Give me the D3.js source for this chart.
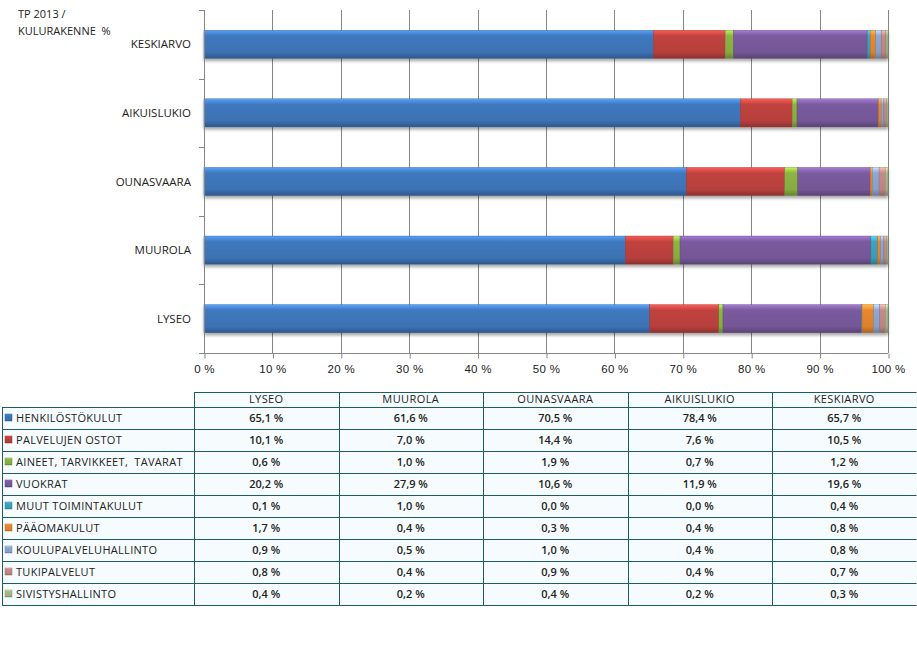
<!DOCTYPE html>
<html><head><meta charset="utf-8">
<script src="https://cdn.jsdelivr.net/npm/d3@7"></script>
<style>
html,body{margin:0;padding:0;background:#fff;}
svg{display:block;font-family:"Open Sans","Noto Sans",sans-serif;}
svg text{white-space:pre;}
</style></head>
<body>
<svg id="c" width="917" height="654"></svg>
<script>
const title = ["TP 2013 /", "KULURAKENNE  %"];
const schools = ["LYSEO", "MUUROLA", "OUNASVAARA", "AIKUISLUKIO", "KESKIARVO"];
const seriesNames = ["HENKILÖSTÖKULUT", "PALVELUJEN OSTOT", "AINEET, TARVIKKEET,  TAVARAT", "VUOKRAT", "MUUT TOIMINTAKULUT", "PÄÄOMAKULUT", "KOULUPALVELUHALLINTO", "TUKIPALVELUT", "SIVISTYSHALLINTO"];
const seriesColors = ["#3f78be", "#c0433f", "#8db443", "#7a5b9e", "#3ea3bf", "#e8882f", "#8fa8d2", "#c48a88", "#a9bb8c"];
// values per series, in school order
const henkilosto = [65.1, 61.6, 70.5, 78.4, 65.7];
const palvelut   = [10.1, 7.0, 14.4, 7.6, 10.5];
const aineet     = [0.6, 1.0, 1.9, 0.7, 1.2];
const vuokrat    = [20.2, 27.9, 10.6, 11.9, 19.6];
const muut       = [0.1, 1.0, 0.0, 0.0, 0.4];
const paaoma     = [1.7, 0.4, 0.3, 0.4, 0.8];
const koulupalv  = [0.9, 0.5, 1.0, 0.4, 0.8];
const tukipalv   = [0.8, 0.4, 0.9, 0.4, 0.7];
const sivistys   = [0.4, 0.2, 0.4, 0.2, 0.3];
const seriesValues = [henkilosto, palvelut, aineet, vuokrat, muut, paaoma, koulupalv, tukipalv, sivistys];
const xTicks = [0, 0.1, 0.2, 0.3, 0.4, 0.5, 0.6, 0.7, 0.8, 0.9, 1.0];

const svg = d3.select("#c");
const defs = svg.append("defs");
seriesColors.forEach((c, i) => {
  const g = defs.append("linearGradient").attr("id", "g" + i).attr("x1", 0).attr("y1", 0).attr("x2", 0).attr("y2", 1);
  const base = d3.color(c);
  g.append("stop").attr("offset", "0%").attr("stop-color", base.brighter(0.9));
  g.append("stop").attr("offset", "12%").attr("stop-color", base.brighter(0.35));
  g.append("stop").attr("offset", "20%").attr("stop-color", base);
  g.append("stop").attr("offset", "78%").attr("stop-color", base.darker(0.15));
  g.append("stop").attr("offset", "88%").attr("stop-color", base.darker(0.45));
  g.append("stop").attr("offset", "100%").attr("stop-color", base.darker(0.9));
});
const f = defs.append("filter").attr("id", "sh").attr("x", "-5%").attr("y", "-30%").attr("width", "110%").attr("height", "180%");
f.append("feDropShadow").attr("dx", 0).attr("dy", 2.5).attr("stdDeviation", 1.6).attr("flood-color", "#000").attr("flood-opacity", 0.35);

const rows = schools.map((s, j) => {
  const o = {school: s};
  seriesNames.forEach((n, i) => o[n] = seriesValues[i][j]);
  return o;
});
const stack = d3.stack().keys(seriesNames).offset(d3.stackOffsetExpand);
const stacked = stack(rows);

const x = d3.scaleLinear().domain([0, 1]).range([204, 888]);
const y = d3.scaleBand().domain(schools.slice().reverse()).range([10, 353]).paddingInner(0.59).paddingOuter(0.295);

svg.append("g").selectAll("line").data(xTicks.slice(1)).join("line")
  .attr("x1", d => Math.round(x(d)) + 0.5).attr("x2", d => Math.round(x(d)) + 0.5)
  .attr("y1", 10).attr("y2", 353).attr("stroke", "#868686").attr("stroke-width", 1);

const bars = svg.append("g").attr("filter", "url(#sh)");
stacked.forEach((layer, i) => {
  bars.append("g").selectAll("rect").data(layer).join("rect")
    .attr("x", d => x(d[0]))
    .attr("width", d => Math.max(0, x(d[1]) - x(d[0])))
    .attr("y", d => y(d.data.school))
    .attr("height", y.bandwidth())
    .attr("fill", `url(#g${i})`)
    .attr("stroke", d3.color(seriesColors[i]).darker(0.8))
    .attr("stroke-width", 0.4);
});

const xAxis = d3.axisBottom(x).tickValues(xTicks).tickSize(5).tickFormat(d => Math.round(d * 100) + " %");
const gx = svg.append("g").attr("transform", "translate(0,353.5)").call(xAxis);
gx.select(".domain").attr("stroke", "#868686").attr("d", "M204,0H888");
gx.selectAll(".tick line").attr("stroke", "#868686").attr("transform", "translate(0.5,0)");
gx.selectAll("text").attr("dy", "0.71em").attr("y", 11).attr("font-size", 11.5).attr("fill", "#222").attr("letter-spacing", "0.3px");

const yL = svg.append("g");
yL.append("line").attr("x1", 204.5).attr("x2", 204.5).attr("y1", 10).attr("y2", 353).attr("stroke", "#868686");
const bounds = d3.range(schools.length + 1).map(k => 10 + k * y.step());
yL.selectAll("line.t").data(bounds).join("line").attr("class", "t")
  .attr("x1", 199).attr("x2", 204.5).attr("y1", d => Math.round(d) + 0.5).attr("y2", d => Math.round(d) + 0.5).attr("stroke", "#868686");
yL.selectAll("text").data(schools).join("text")
  .attr("x", 191).attr("y", d => y(d) + y.bandwidth() / 2).attr("dy", "0.35em")
  .attr("text-anchor", "end").attr("font-size", 11.5).attr("fill", "#222").text(d => d);

svg.append("g").selectAll("text").data(title).join("text")
  .attr("x", 18).attr("y", (d, i) => 18 + i * 17).attr("font-size", 11).attr("fill", "#222").text(d => d);

const tcol0 = 2, tcol1 = 194, tRight = 916.5;
const colW = (tRight - tcol1) / schools.length;
const tTop = 392, hdrH = 15, rowH = 22;
const lineC = "#1d5c63";
const tbl = svg.append("g");
tbl.append("rect").attr("x", tcol1).attr("y", tTop).attr("width", tRight - tcol1).attr("height", hdrH + rowH * seriesNames.length).attr("fill", "#f6fcfe");
tbl.append("rect").attr("x", tcol0).attr("y", tTop + hdrH).attr("width", tcol1 - tcol0).attr("height", rowH * seriesNames.length).attr("fill", "#f6fcfe");
const hLines = [tTop].concat(d3.range(seriesNames.length + 1).map(k => tTop + hdrH + k * rowH));
tbl.selectAll("line.h").data(hLines).join("line").attr("class", "h")
  .attr("x1", (d, i) => i === 0 ? tcol1 : tcol0).attr("x2", tRight)
  .attr("y1", d => Math.round(d) + 0.5).attr("y2", d => Math.round(d) + 0.5)
  .attr("stroke", lineC).attr("stroke-width", 1);
const vLines = [tcol1].concat(d3.range(1, schools.length + 1).map(k => tcol1 + k * colW));
tbl.selectAll("line.v").data(vLines).join("line").attr("class", "v")
  .attr("x1", d => Math.round(d) + 0.5).attr("x2", d => Math.round(d) + 0.5)
  .attr("y1", tTop).attr("y2", tTop + hdrH + rowH * seriesNames.length)
  .attr("stroke", lineC);
tbl.append("line").attr("x1", tcol0 + 0.5).attr("x2", tcol0 + 0.5).attr("y1", tTop + hdrH).attr("y2", tTop + hdrH + rowH * seriesNames.length).attr("stroke", lineC);
tbl.selectAll("text.hd").data(schools).join("text").attr("class", "hd")
  .attr("x", (d, i) => tcol1 + colW * (i + 0.5)).attr("y", tTop + hdrH / 2).attr("dy", "0.35em")
  .attr("text-anchor", "middle").attr("font-size", 11).attr("fill", "#222").attr("letter-spacing", "0.4px").text(d => d);
seriesNames.forEach((n, i) => {
  const cy = tTop + hdrH + rowH * i + rowH / 2;
  tbl.append("rect").attr("x", 5).attr("y", cy - 4).attr("width", 7).attr("height", 7)
    .attr("fill", `url(#g${i})`).attr("stroke", d3.color(seriesColors[i]).darker(0.6)).attr("stroke-width", 0.5);
  tbl.append("text").attr("x", 16).attr("y", cy).attr("dy", "0.35em").attr("font-size", 11).attr("fill", "#222")
    .attr("letter-spacing", "0.3px").text(n);
  tbl.selectAll(null).data(seriesValues[i]).join("text")
    .attr("x", (d, j) => tcol1 + colW * (j + 0.5)).attr("y", cy).attr("dy", "0.35em")
    .attr("text-anchor", "middle").attr("font-size", 11).attr("font-weight", 600).attr("fill", "#222")
    .text(d => d.toFixed(1).replace(".", ",") + " %");
});
</script>
</body></html>
